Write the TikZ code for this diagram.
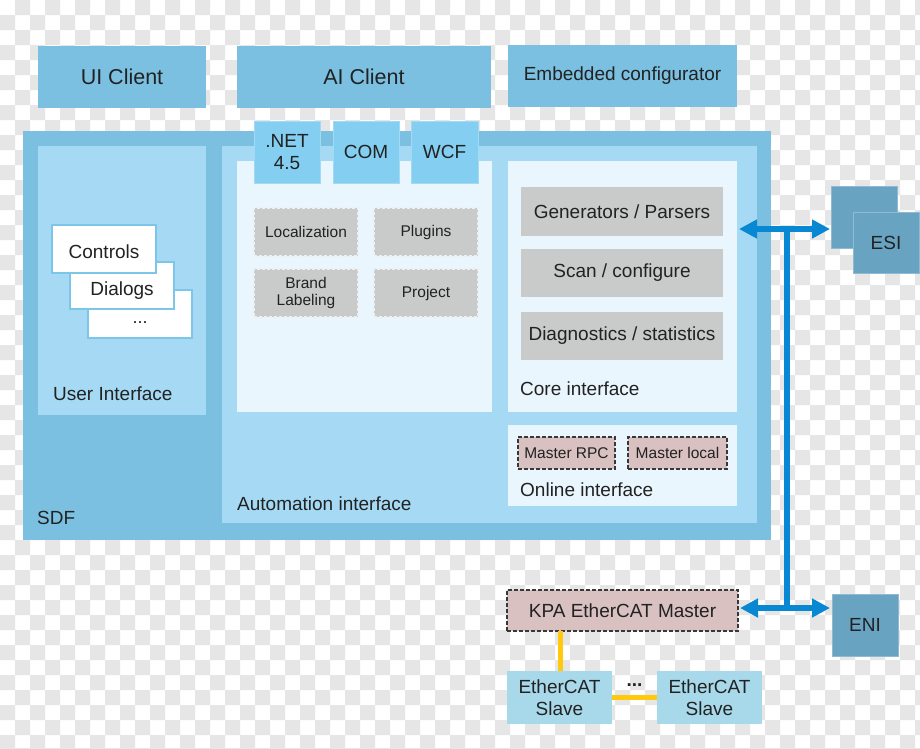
\documentclass[tikz,border=0pt]{standalone}
\usepackage{fontspec}
\setmainfont{Liberation Sans}
\usetikzlibrary{arrows.meta}
\definecolor{chk}{HTML}{E6E6E6}
\definecolor{midblue}{HTML}{7BC0E1}
\definecolor{lightblue}{HTML}{A6DAF4}
\definecolor{paleblue}{HTML}{EAF6FD}
\definecolor{tabblue}{HTML}{83CEF1}
\definecolor{grayfill}{HTML}{C9CACA}
\definecolor{pinkfill}{HTML}{D9C1C1}
\definecolor{filecol}{HTML}{68A4C2}
\definecolor{slavecol}{HTML}{A8D9EA}
\definecolor{arrowblue}{HTML}{0888D2}
\definecolor{wireyellow}{HTML}{FFC90E}
\definecolor{txt}{HTML}{222222}
\definecolor{ctrlborder}{HTML}{7CC6EA}
\begin{document}
\begin{tikzpicture}[x=1pt,y=-1pt,
  sz/.style 2 args={minimum width=#1pt, minimum height=#2pt},
  base/.style={inner sep=0pt, outer sep=0pt, align=center, text=txt,
    font=\fontsize{19}{22}\selectfont},
  client/.style={base, fill=midblue},
  panel/.style={base, fill=lightblue},
  pale/.style={base, fill=paleblue},
  tab/.style={base, fill=tabblue, draw=white!25!tabblue, line width=0.6pt},
  grayd/.style={base, fill=grayfill, draw=white!70!grayfill, dash pattern=on 3pt off 2pt, line width=1.2pt,
    font=\fontsize{15.5}{17}\selectfont},
  grays/.style={base, fill=grayfill},
  pinkd/.style={base, fill=pinkfill, draw=txt!90, dash pattern=on 4pt off 2pt, line width=1.4pt},
  filebox/.style={base, fill=filecol, draw=white!25!filecol, line width=0.6pt},
  slavebox/.style={base, fill=slavecol},
  ctrl/.style={base, fill=white, draw=ctrlborder, line width=1.2pt},
  lbl/.style={inner sep=0pt, text=txt, font=\fontsize{19}{22}\selectfont, anchor=west},
  bluewire/.style={draw=arrowblue, line width=5.5pt},
  bluearrow/.style={bluewire, {Triangle[length=18pt,width=18pt]}-{Triangle[length=18pt,width=18pt]}},
  yellowwire/.style={draw=wireyellow, line width=5pt}]

\useasboundingbox (0,0) rectangle (920,748);
% checkerboard background
\fill[white] (0,0) rectangle (920,748);
\fill[chk, even odd rule]
  foreach \i in {1,3,...,61} {(\i*15,0) rectangle ++(15,748)}
  foreach \j in {1,3,...,49} {(0,\j*15) rectangle (920,\j*15+15)};

% top clients
\node[client, sz={168}{62}, font=\fontsize{21.5}{24}\selectfont] (uiclient) at (122,77) {UI Client};
\node[client, sz={254}{62}, font=\fontsize{21.5}{24}\selectfont] (aiclient) at (364,77) {AI Client};
\node[client, sz={229}{62}] (embedded) at (622.5,76) {Embedded configurator};

% SDF frame
\node[client, sz={748}{409}] (sdf) at (397,335.5) {};
\node[panel, sz={168}{269}] (uipanel) at (122,280.5) {};
\node[panel, sz={535}{377}] (autopanel) at (489.5,334.5) {};
\node[pale, sz={255}{251}] (leftinner) at (364.5,286.5) {};
\node[pale, sz={229}{251}] (coreinner) at (622.5,286.5) {};
\node[pale, sz={229}{81}] (onlinebox) at (622.5,465.5) {};

% API tabs
\node[tab, sz={66}{62}] (net) at (287,152) {.NET\\4.5};
\node[tab, sz={66}{62}] (com) at (366,152) {COM};
\node[tab, sz={67}{62}] (wcf) at (444.5,152) {WCF};

% gray components
\node[grayd, sz={104}{48}] (loc) at (306,232) {Localization};
\node[grayd, sz={104}{48}] (plugins) at (426,232) {Plugins};
\node[grayd, sz={104}{48}] (brand) at (306,293) {Brand\\Labeling};
\node[grayd, sz={104}{48}] (project) at (426,293) {Project};

\node[grays, sz={202}{49}] (gen) at (622,211.5) {Generators / Parsers};
\node[grays, sz={202}{48}] (scan) at (622,273) {Scan / configure};
\node[grays, sz={202}{48}] (diag) at (622,336) {Diagnostics / statistics};

% online interface
\node[pinkd, sz={97}{32}, font=\fontsize{15.5}{18}\selectfont] (mrpc) at (566.5,453) {Master RPC};
\node[pinkd, sz={99}{32}, font=\fontsize{15.5}{18}\selectfont] (mlocal) at (677.5,453) {Master local};

% user interface windows (back to front)
\node[ctrl, sz={104}{48}] (more) at (140,314) {\raisebox{-9pt}[\height][\depth]{\fontsize{18}{20}\selectfont ...}};
\node[ctrl, sz={104}{47}] (dialogs) at (122,285.5) {\raisebox{-5pt}[\height][\depth]{Dialogs}};
\node[ctrl, sz={104}{48}] (controls) at (104,249) {\raisebox{-3pt}[\height][\depth]{Controls}};

% labels
\node[lbl] (uilbl) at (53,394) {User Interface};
\node[lbl] (sdflbl) at (37,518) {SDF};
\node[lbl] (autolbl) at (237,504) {Automation interface};
\node[lbl] (corelbl) at (520,389) {Core interface};
\node[lbl] (onlinelbl) at (520,490) {Online interface};

% files
\node[filebox, sz={66}{62}] (esiback) at (864,217) {};
\node[filebox, sz={66}{61}] (esi) at (886,242.5) {ESI};
\node[filebox, sz={66}{62}] (eni) at (865,625) {ENI};

% master and slaves
\node[pinkd, sz={231}{41}] (kpa) at (622.5,610.5) {KPA EtherCAT Master};
\node[slavebox, sz={105}{53}] (slave1) at (559.5,697.5) {EtherCAT\\Slave};
\node[slavebox, sz={105}{53}] (slave2) at (709.5,697.5) {EtherCAT\\Slave};

% blue connectors
\coordinate (jt) at (787,229);
\coordinate (jb) at (787,608);
\draw[bluewire] (jt) -- (jb);
\draw[bluearrow] ([xshift=2pt]coreinner.east |- jt) -- ([xshift=-1pt]esiback.west |- jt);
\draw[bluearrow] ([xshift=2pt]kpa.east |- jb) -- ([xshift=-2pt]eni.west |- jb);

% yellow wires
\draw[yellowwire] (slave1.north -| 560,0) -- (kpa.south -| 560,0);
\draw[yellowwire] (slave1.east) -- node[above=9pt, inner sep=0pt, text=txt, font=\bfseries\fontsize{19}{22}\selectfont] (dots) {...} (slave2.west);
\end{tikzpicture}
\end{document}
